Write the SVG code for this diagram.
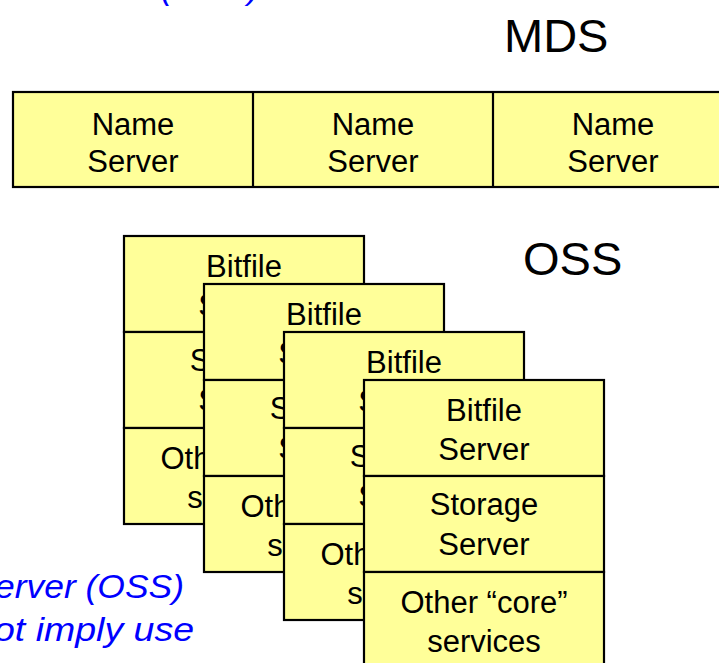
<svg xmlns="http://www.w3.org/2000/svg" width="719" height="663" viewBox="0 0 719 663">
<style>
.box{fill:#FFFF99;stroke:#000;stroke-width:2.2}
.t{font-family:"Liberation Sans",Arial,sans-serif;font-size:31px;fill:#000;text-anchor:middle}
.big{font-family:"Liberation Sans",Arial,sans-serif;font-size:47px;fill:#000}
.note{font-family:"Liberation Sans",Arial,sans-serif;font-size:34px;font-style:italic;fill:#0000FF}
</style>
<rect width="719" height="663" fill="#fff"/>
<text class="note" x="259" y="-1.5" text-anchor="end">(MDS)</text>
<text class="big" x="504" y="52">MDS</text>
<g id="mds">
  <rect class="box" x="13" y="92" width="720" height="95"/>
  <line x1="253" y1="92" x2="253" y2="187" stroke="#000" stroke-width="2.2"/>
  <line x1="493" y1="92" x2="493" y2="187" stroke="#000" stroke-width="2.2"/>
  <text class="t" x="133" y="135">Name</text><text class="t" x="133" y="172">Server</text>
  <text class="t" x="373" y="135">Name</text><text class="t" x="373" y="172">Server</text>
  <text class="t" x="613" y="135">Name</text><text class="t" x="613" y="172">Server</text>
</g>
<text class="big" x="523" y="275">OSS</text>
<defs>
  <g id="oss">
    <rect class="box" x="0" y="0" width="240" height="96"/>
    <rect class="box" x="0" y="96" width="240" height="96"/>
    <rect class="box" x="0" y="192" width="240" height="96"/>
    <text class="t" x="120" y="41">Bitfile</text>
    <text class="t" x="120" y="80">Server</text>
    <text class="t" x="120" y="135">Storage</text>
    <text class="t" x="120" y="175">Server</text>
    <text class="t" x="120" y="233">Other “core”</text>
    <text class="t" x="120" y="272">services</text>
  </g>
</defs>
<g id="oss1"><use href="#oss" x="124" y="236"/></g>
<g id="oss2"><use href="#oss" x="204" y="284"/></g>
<g id="oss3"><use href="#oss" x="284" y="332"/></g>
<g id="oss4"><use href="#oss" x="364" y="380"/></g>
<g id="connectors"/>
<text class="note" x="-5" y="598" textLength="189" lengthAdjust="spacingAndGlyphs">erver (OSS)</text>
<text class="note" x="-6" y="641" textLength="200" lengthAdjust="spacingAndGlyphs">ot imply use</text>
</svg>
